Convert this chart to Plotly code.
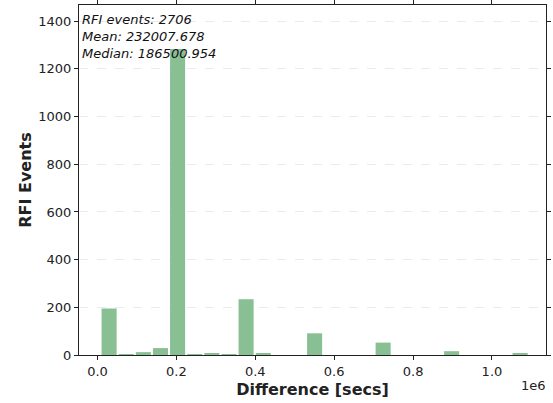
import numpy as np
import plotly.graph_objects as go

# Histogram data
bin_start = 7600.0          # left edge of first bin (secs)
bin_width = 43420.0         # width of each bin (secs)
counts = [195, 4, 12, 29, 1283, 4, 7, 4, 234, 7, 0, 0, 91, 0, 0, 0,
          52, 0, 0, 0, 16, 0, 0, 0, 8]

x_tick_vals = [0, 200000, 400000, 600000, 800000, 1000000]
x_tick_text = ["0.0", "0.2", "0.4", "0.6", "0.8", "1.0"]
y_tick_vals = [0, 200, 400, 600, 800, 1000, 1200, 1400]

stats_lines = ["RFI events: 2706", "Mean: 232007.678", "Median: 186500.954"]

centers = [bin_start + bin_width * (i + 0.5) for i in range(len(counts))]

fig = go.Figure()
fig.add_trace(go.Bar(
    x=centers, y=counts, width=bin_width * 0.88,
    marker=dict(color="rgb(136,192,148)", line=dict(width=0)),
    showlegend=False,
))

font_main = "DejaVu Sans, Verdana, sans-serif"

fig.update_layout(
    width=553, height=403,
    margin=dict(l=79, r=7, t=5, b=48),
    paper_bgcolor="white", plot_bgcolor="white",
    font=dict(family=font_main, size=13, color="#222"),
    xaxis=dict(
        range=[-47000, 1137000], automargin=False,
        tickvals=x_tick_vals, ticktext=x_tick_text,
        ticks="outside", ticklen=4, tickcolor="#222", tickwidth=1,
        showline=True, linecolor="#222", linewidth=1, mirror="ticks",
        showgrid=False, zeroline=False,
        tickfont=dict(size=13),
        title=dict(text="<b>Difference [secs]</b>", font=dict(size=16), standoff=6),
    ),
    yaxis=dict(
        range=[0, 1468], automargin=False,
        tickvals=y_tick_vals,
        ticks="outside", ticklen=4, tickcolor="#222", tickwidth=1,
        showline=True, linecolor="#222", linewidth=1, mirror="ticks",
        showgrid=True, gridcolor="#ebebeb", griddash="dash", gridwidth=1,
        zeroline=False,
        tickfont=dict(size=13),
        title=dict(text="<b>RFI Events</b>", font=dict(size=16), standoff=2),
    ),
)

fig.add_annotation(
    xref="paper", yref="paper", x=0.003, y=0.987,
    xanchor="left", yanchor="top", align="left", showarrow=False,
    text="<br>".join("<i>%s</i>" % s for s in stats_lines),
    font=dict(size=13, color="#111"),
)
fig.add_annotation(
    xref="paper", yref="paper", x=1.005, y=-0.06,
    xanchor="right", yanchor="top", showarrow=False,
    text="1e6", font=dict(size=13, color="#222"),
)

fig.write_html("out.html", config={"displayModeBar": False},
               post_script="document.body.style.margin='0';document.body.style.overflow='hidden';")
